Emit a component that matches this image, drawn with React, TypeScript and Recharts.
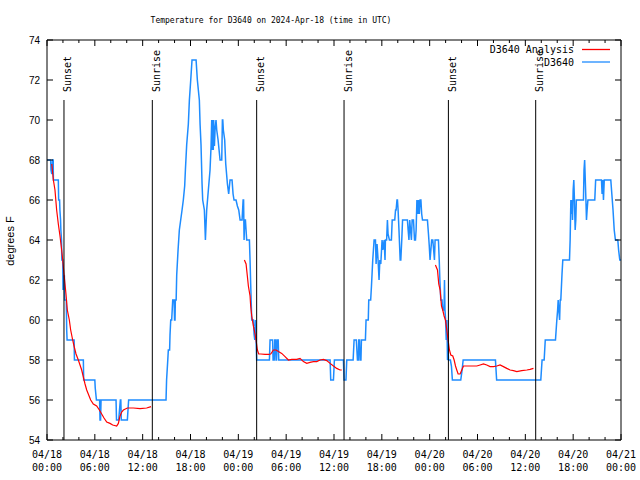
import React from 'react';
import { LineChart, Line, XAxis, YAxis, ReferenceLine, Legend } from 'recharts';

// Hours since 2024-04-18 00:00 UTC and temperature (°F) for station D3640
const blueTimes = [
  0, 0.46, 0.5, 0.6, 0.7, 0.78, 0.8, 1.42, 1.46, 1.58, 1.62, 1.7, 1.74, 1.82, 1.86, 1.97, 2.01, 2.06, 2.18, 2.22,
  2.42, 2.47, 2.52, 3.4, 3.44, 4.56, 4.6, 6.0, 6.05, 6.2, 6.6, 6.65, 6.72, 6.78, 8.66, 8.72, 8.99, 9.2, 9.26, 9.32,
  10.08, 10.24, 14.93, 15.0, 15.15, 15.22, 15.38, 15.43, 15.52, 15.64, 15.77, 15.94, 16.0, 16.06, 16.1, 16.2, 16.27, 16.44, 16.6, 16.77,
  16.94, 17.1, 17.27, 17.36, 17.52, 17.73, 17.86, 18.03, 18.19, 18.7, 18.86, 19.11, 19.2, 19.32, 19.45, 19.53, 19.74, 19.87, 20.03, 20.24,
  20.45, 20.58, 20.66, 20.72, 20.8, 20.86, 20.91, 21.0, 21.08, 21.2, 21.29, 21.46, 21.71, 21.92, 22.0, 22.05, 22.12, 22.29, 22.42, 22.63,
  22.79, 22.96, 23.21, 23.34, 23.46, 23.71, 23.88, 24.05, 24.22, 24.47, 24.6, 24.66, 24.72, 24.8, 24.89, 24.97, 25.05, 25.39, 25.47, 25.55,
  25.68, 25.89, 25.97, 26.06, 26.14, 26.22, 26.3, 27.9, 27.98, 28.3, 28.36, 28.5, 28.57, 28.66, 28.73, 28.8, 28.86, 29.0, 29.07, 35.51,
  35.59, 35.93, 36.05, 37.18, 37.26, 37.5, 37.6, 38.4, 38.52, 38.8, 38.94, 39.05, 39.1, 39.2, 39.27, 39.38, 39.44, 39.94, 40.02, 40.3,
  40.36, 40.6, 40.7, 40.86, 41.03, 41.2, 41.28, 41.4, 41.53, 41.65, 41.75, 41.87, 42.03, 42.12, 42.29, 42.4, 42.45, 42.6, 42.7, 42.78,
  42.95, 43.2, 43.3, 43.62, 43.72, 43.79, 43.9, 43.96, 44.04, 44.15, 44.3, 44.38, 44.5, 44.6, 45.21, 45.3, 45.4, 45.5, 45.6, 45.71,
  45.8, 45.97, 46.1, 46.22, 46.3, 46.4, 46.5, 46.6, 46.7, 46.8, 46.9, 47.0, 47.1, 47.72, 47.85, 47.95, 48.05, 48.15, 48.25, 48.39,
  48.5, 48.6, 48.68, 49.1, 49.2, 49.28, 49.4, 49.55, 49.64, 49.8, 49.86, 49.92, 50.0, 50.08, 50.16, 50.24, 50.3, 50.36, 50.6, 50.73,
  50.85, 51.9, 52.07, 52.2, 56.25, 56.4, 61.94, 62.1, 62.36, 62.5, 63.78, 63.95, 64.05, 64.12, 64.2, 64.3, 64.37, 64.45, 64.6, 64.7,
  65.54, 65.62, 65.71, 65.78, 65.85, 65.92, 66.0, 66.08, 66.16, 66.25, 66.33, 66.4, 66.5, 67.29, 67.36, 67.44, 67.52, 67.6, 67.67, 67.75,
  67.85, 68.71, 68.82, 69.55, 69.63, 69.71, 69.8, 69.9, 70.72, 70.85, 71.0, 71.15, 71.3, 71.6, 71.7, 71.85, 72,
];
const blueValues = [
  68, 68, 67.5, 67.3, 68, 68, 67, 67, 66, 66, 65.5, 65, 64.5, 64, 63, 63, 61.5, 62.2, 62.2, 61,
  61, 59.5, 59, 59, 58, 58, 57, 57, 56.6, 56, 56, 55, 55, 56, 56, 55, 55, 56, 56, 55,
  55, 56, 56, 57, 58, 58.5, 58.5, 59.25, 60, 60, 61, 61, 60, 60, 61, 61, 62.25, 63.5, 64.5, 65,
  65.5, 66, 66.7, 67.5, 68.75, 69.8, 71, 72, 73, 73, 72, 71, 69.8, 68.75, 66.8, 66, 65.5, 64, 65.5, 66.5,
  67.5, 68.7, 70, 68.5, 70, 68.5, 70, 68.7, 69.5, 70, 69.5, 69, 68, 68, 70, 70, 69.5, 69, 67.8, 66.8,
  66.3, 67, 67, 66.3, 66, 66, 65.7, 65.5, 65, 65, 66, 66, 64, 65, 65, 64.5, 64, 64, 63, 61.8,
  60, 60, 59.3, 59, 60, 59, 58, 58, 59, 59, 58, 58, 59, 59, 58, 58, 59, 59, 58, 58,
  57, 57, 58, 58, 57, 57, 58, 58, 59, 59, 58, 58, 59, 59, 58, 58, 59, 59, 60, 60,
  61, 61, 61.7, 63, 64, 64, 62.8, 63.8, 63, 62, 63, 62.8, 64, 63.5, 64, 63, 64, 64, 65, 64.3,
  64, 64, 65, 65, 65.5, 65.5, 66, 66, 65.5, 64.5, 63, 63, 64, 65, 65, 64.5, 64, 65, 64.5, 64,
  65, 65, 64, 64, 64.5, 66, 65.3, 66, 65.3, 66, 66, 65.3, 65, 65, 64.3, 63.7, 63, 63.5, 64, 64,
  63.5, 63, 64, 64, 63, 62, 61, 61, 60.5, 60.5, 62, 60.5, 60, 59, 60, 58, 59, 58, 58, 57.7,
  57, 57, 57.5, 58, 58, 57, 57, 58, 58, 59, 59, 60, 60.5, 61, 60.5, 60, 61, 61, 62.3, 63,
  63, 64, 66, 65.3, 66, 65, 66.5, 67, 66, 64.5, 65, 66, 66, 66, 67.5, 68, 67, 66, 65, 65.5,
  66, 66, 67, 67, 66.3, 67, 66, 67, 67, 66.3, 65.5, 64.5, 64, 64, 63.5, 63, 63,
];

// Analysis series; null marks a gap between runs
const redTimes = [
  0.6, 0.8, 1.0, 1.21, 1.42, 1.63, 1.84, 1.97, 2.13, 2.38, 2.55, 2.8, 2.97, 3.22, 3.39, 3.64, 3.93, 4.35, 4.77, 4.98,
  5.48, 5.81, 6.23, 6.57, 6.86, 7.15, 7.49, 7.9, 8.24, 8.74, 8.95, 9.16, 9.37, 9.58, 10.08, 10.83, 11.67, 12.5, 13.05,
  18,
  24.76, 24.97, 25.13, 25.26, 25.47, 25.55, 25.68, 25.89, 26.1, 26.22, 26.39, 26.56, 26.81, 27.35, 27.77, 28.06, 28.4, 28.73, 29.03, 29.44,
  29.86, 30.28, 30.7, 31.32, 31.74, 32.16, 32.58, 32.99, 33.41, 33.84, 34.25, 34.67, 35.09, 35.51, 35.93, 36.34, 36.76, 36.97,
  42,
  48.72, 48.98, 49.14, 49.31, 49.48, 49.64, 49.81, 49.98, 50.15, 50.31, 50.48, 50.65, 50.9, 51.07, 51.24, 51.4, 51.57, 51.82, 52.03, 52.24,
  52.66, 53.07, 53.91, 54.33, 54.75, 55.16, 55.58, 56.0, 56.42, 56.83, 57.25, 57.67, 58.09, 58.51, 58.93, 59.55, 60.19, 60.6, 61.02,
];
const redValues: (number | null)[] = [
  67.8, 67.0, 66.5, 65.5, 64.8, 64.2, 63.5, 63.0, 62.3, 61.3, 60.5, 60.0, 59.5, 59.0, 58.7, 58.3, 58.0, 57.5, 56.8, 56.5,
  56.0, 55.8, 55.7, 55.5, 55.3, 55.1, 54.9, 54.83, 54.75, 54.7, 54.83, 55.2, 55.4, 55.5, 55.6, 55.6, 55.57, 55.6, 55.67,
  null,
  63, 62.8, 62.2, 61.7, 61.2, 60.7, 60.2, 59.7, 59.3, 59, 58.5, 58.3, 58.3, 58.28, 58.28, 58.3, 58.5, 58.5, 58.42, 58.33,
  58.17, 58.0, 58.03, 58.03, 58.08, 57.92, 57.83, 57.88, 57.92, 57.92, 58.0, 58.03, 57.97, 57.83, 57.7, 57.58, 57.5, 57.5,
  null,
  62.75, 62.5, 61.8, 61.5, 60.7, 60.5, 60.2, 60, 59.5, 59, 58.5, 58.25, 58.2, 58, 57.7, 57.5, 57.3, 57.3, 57.5, 57.7,
  57.7, 57.7, 57.7, 57.75, 57.8, 57.75, 57.67, 57.67, 57.7, 57.75, 57.67, 57.58, 57.5, 57.47, 57.42, 57.47, 57.5, 57.53, 57.58,
];

const sunTimes = [2.13, 13.21, 26.3, 37.26, 50.35, 61.3];
const sunLabels = ['Sunset', 'Sunrise', 'Sunset', 'Sunrise', 'Sunset', 'Sunrise'];

const xTicks = [0, 2, 4, 6, 8, 10, 12, 14, 16, 18, 20, 22, 24, 26, 28, 30, 32, 34, 36, 38, 40, 42, 44, 46, 48, 50, 52, 54, 56, 58, 60, 62, 64, 66, 68, 70, 72];
const xLabelTicks = [0, 6, 12, 18, 24, 30, 36, 42, 48, 54, 60, 66, 72];
const xDayLabels = ['04/18', '04/18', '04/18', '04/18', '04/19', '04/19', '04/19', '04/19', '04/20', '04/20', '04/20', '04/20', '04/21'];
const xTimeLabels = ['00:00', '06:00', '12:00', '18:00', '00:00', '06:00', '12:00', '18:00', '00:00', '06:00', '12:00', '18:00', '00:00'];
const yTicks = [54, 56, 58, 60, 62, 64, 66, 68, 70, 72, 74];

const seriesNames = ['D3640 Analysis', 'D3640'];
const seriesColors = ['#ff0000', '#1e8cff'];

const MONO = '"DejaVu Sans Mono", monospace';
const SANS = '"Liberation Sans", Arial, sans-serif';

const BottomTick = (p: any) => {
  const v = p.payload.value;
  const idx = xLabelTicks.indexOf(v);
  const major = idx >= 0;
  return (
    <g>
      <line x1={p.x} y1={p.y} x2={p.x} y2={p.y - (major ? 6 : 3)} stroke="#000" />
      {major && (
        <text x={p.x} y={p.y + 18} textAnchor="middle" fontFamily={MONO} fontSize={10} fill="#000">
          <tspan x={p.x}>{xDayLabels[idx]}</tspan>
          <tspan x={p.x} dy={13}>{xTimeLabels[idx]}</tspan>
        </text>
      )}
    </g>
  );
};

const TopTick = (p: any) => {
  const major = xLabelTicks.indexOf(p.payload.value) >= 0;
  return <line x1={p.x} y1={p.y} x2={p.x} y2={p.y + (major ? 6 : 3)} stroke="#000" />;
};

const LeftTick = (p: any) => (
  <g>
    <line x1={p.x} y1={p.y} x2={p.x + 6} y2={p.y} stroke="#000" />
    <text x={p.x - 7} y={p.y + 3.5} textAnchor="end" fontFamily={SANS} fontSize={10} fill="#000">
      {p.payload.value}
    </text>
  </g>
);

const RightTick = (p: any) => <line x1={p.x} y1={p.y} x2={p.x - 6} y2={p.y} stroke="#000" />;

const SunLabel = (text: string) => (p: any) => {
  const vb = p.viewBox || {};
  const x = vb.x;
  const top = Math.min(vb.y, vb.y + (vb.height || 0));
  return (
    <text
      transform={`translate(${x + 7.5},${top - 8}) rotate(-90)`}
      textAnchor="start"
      fontFamily={MONO}
      fontSize={10}
      fill="#000"
    >
      {text}
    </text>
  );
};

const LegendBox = () => (
  <svg width={160} height={34} style={{ display: 'block' }}>
    {seriesNames.map((n, i) => (
      <g key={n}>
        <text x={94} y={13 + i * 12.5} textAnchor="end" fontFamily={MONO} fontSize={10} fill="#000">
          {n}
        </text>
        <line x1={102} x2={130} y1={9.5 + i * 12.5} y2={9.5 + i * 12.5} stroke={seriesColors[i]} strokeWidth={1.3} />
      </g>
    ))}
  </svg>
);

export default function App() {
  const blueData = blueTimes.map((t, i) => ({ t, v: blueValues[i] }));
  const redData = redTimes.map((t, i) => ({ t, v: redValues[i] }));
  return (
    <div style={{ position: 'absolute', left: 0, top: 0, width: 640, height: 480, background: '#fff' }}>
      <LineChart width={640} height={480} margin={{ top: 39, right: 18, bottom: 39, left: 46 }}>
        <XAxis
          xAxisId="b"
          dataKey="t"
          type="number"
          domain={[0, 72]}
          ticks={xTicks}
          interval={0}
          height={1}
          tickSize={0}
          tickMargin={0}
          tickLine={false}
          axisLine={{ stroke: '#000' }}
          tick={BottomTick}
          allowDataOverflow
        />
        <XAxis
          xAxisId="t"
          orientation="top"
          dataKey="t"
          type="number"
          domain={[0, 72]}
          ticks={xTicks}
          interval={0}
          height={1}
          tickSize={0}
          tickMargin={0}
          tickLine={false}
          axisLine={{ stroke: '#000' }}
          tick={TopTick}
          allowDataOverflow
        />
        <YAxis
          yAxisId="l"
          type="number"
          domain={[54, 74]}
          ticks={yTicks}
          interval={0}
          width={1}
          tickSize={0}
          tickMargin={0}
          tickLine={false}
          axisLine={{ stroke: '#000' }}
          tick={LeftTick}
          allowDataOverflow
        />
        <YAxis
          yAxisId="r"
          orientation="right"
          type="number"
          domain={[54, 74]}
          ticks={yTicks}
          interval={0}
          width={1}
          tickSize={0}
          tickMargin={0}
          tickLine={false}
          axisLine={{ stroke: '#000' }}
          tick={RightTick}
          allowDataOverflow
        />
        <Legend
          layout="horizontal"
          align="center"
          verticalAlign="middle"
          wrapperStyle={{ position: 'absolute', left: 480, top: 40, width: 160, height: 34 }}
          content={() => <LegendBox />}
        />
        <Line
          xAxisId="b"
          yAxisId="l"
          data={blueData}
          dataKey="v"
          name={seriesNames[1]}
          type="linear"
          stroke={seriesColors[1]}
          strokeWidth={1.5}
          dot={false}
          activeDot={false}
          isAnimationActive={false}
        />
        <Line
          xAxisId="b"
          yAxisId="l"
          data={redData}
          dataKey="v"
          name={seriesNames[0]}
          type="linear"
          stroke={seriesColors[0]}
          strokeWidth={1.2}
          dot={false}
          activeDot={false}
          connectNulls={false}
          isAnimationActive={false}
        />
        {sunTimes.map((t, i) => (
          <ReferenceLine
            key={i}
            xAxisId="b"
            yAxisId="l"
            segment={[{ x: t, y: 54 }, { x: t, y: 71 }]}
            stroke="#000"
            strokeWidth={1}
            label={SunLabel(sunLabels[i])}
          />
        ))}
      </LineChart>
      <svg width={640} height={480} style={{ position: 'absolute', left: 0, top: 0, pointerEvents: 'none' }}>
        <text x={271} y={23} textAnchor="middle" fontFamily={MONO} fontSize={8} fill="#000">
          Temperature for D3640 on 2024-Apr-18 (time in UTC)
        </text>
        <text transform="translate(14,241) rotate(-90)" textAnchor="middle" fontFamily={SANS} fontSize={11} fill="#000">
          degrees F
        </text>
      </svg>
    </div>
  );
}
